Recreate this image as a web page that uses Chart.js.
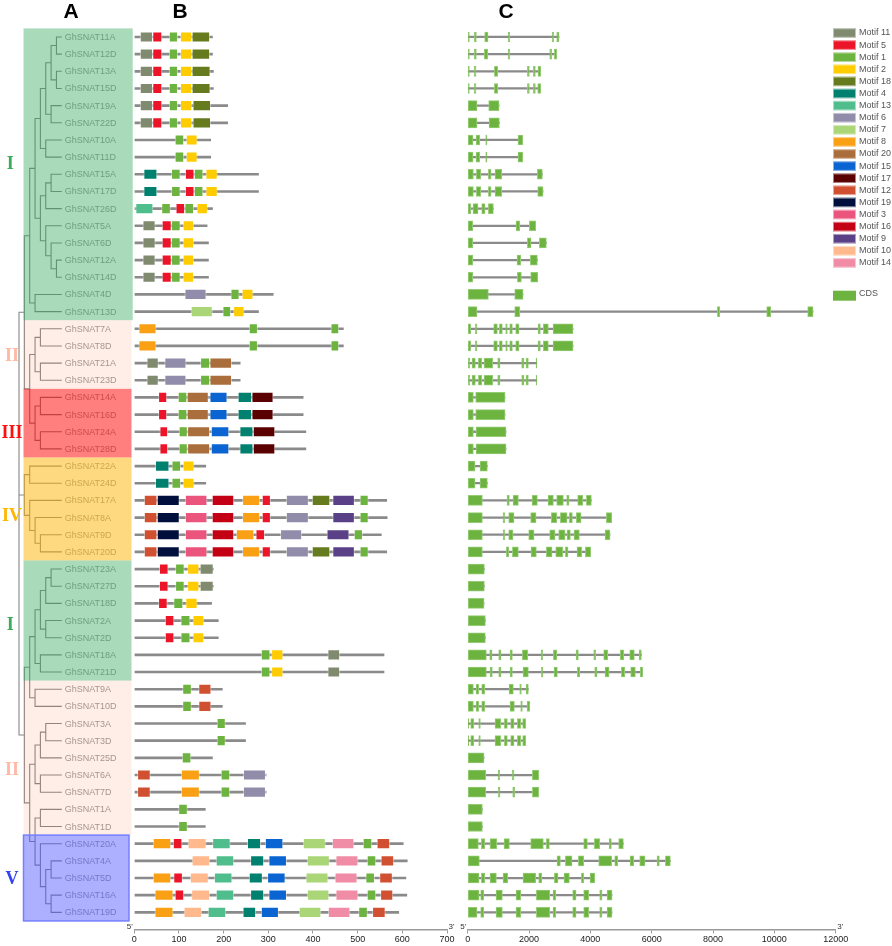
<!DOCTYPE html>
<html><head><meta charset="utf-8">
<script src="https://cdn.jsdelivr.net/npm/chart.js@4.4.1/dist/chart.umd.min.js"></script>
<style>
html,body{margin:0;padding:0;background:#fff;overflow:hidden;width:892px;height:946px;}
canvas{position:absolute;top:0;}
#cT{left:0;width:134px;height:946px}
#cB{left:100px;width:370px;height:946px}
#cC{left:440px;width:452px;height:946px}
</style></head><body>
<canvas id="cT" width="134" height="946"></canvas>
<canvas id="cB" width="370" height="946"></canvas>
<canvas id="cC" width="452" height="946"></canvas>
<script>
// ---------------- DATA ----------------
const genes = ['GhSNAT11A','GhSNAT12D','GhSNAT13A','GhSNAT15D','GhSNAT19A','GhSNAT22D','GhSNAT10A','GhSNAT11D',
 'GhSNAT15A','GhSNAT17D','GhSNAT26D','GhSNAT5A','GhSNAT6D','GhSNAT12A','GhSNAT14D','GhSNAT4D','GhSNAT13D',
 'GhSNAT7A','GhSNAT8D','GhSNAT21A','GhSNAT23D','GhSNAT14A','GhSNAT16D','GhSNAT24A','GhSNAT28D',
 'GhSNAT22A','GhSNAT24D','GhSNAT17A','GhSNAT8A','GhSNAT9D','GhSNAT20D',
 'GhSNAT23A','GhSNAT27D','GhSNAT18D','GhSNAT2A','GhSNAT2D','GhSNAT18A','GhSNAT21D',
 'GhSNAT9A','GhSNAT10D','GhSNAT3A','GhSNAT3D','GhSNAT25D','GhSNAT6A','GhSNAT7D','GhSNAT1A','GhSNAT1D',
 'GhSNAT20A','GhSNAT4A','GhSNAT5D','GhSNAT16A','GhSNAT19D'];

// protein lengths (aa), panel B
const proteinLen = [175,175,177,177,209,209,171,171,278,278,175,163,166,166,166,311,278,468,468,237,237,378,378,384,384,
 160,160,565,566,553,565,177,177,173,188,188,559,559,197,197,249,249,175,295,295,159,159,602,611,608,610,592];

// motif tracks per gene: [motif id, start, end]
const motifTracks = [
 [[11,13,41],[5,41,62],[1,78,97],[2,103,129],[18,129,169]],
 [[11,13,41],[5,41,62],[1,78,97],[2,103,129],[18,129,169]],
 [[11,13,41],[5,41,62],[1,78,97],[2,103,129],[18,129,170]],
 [[11,13,41],[5,41,62],[1,78,97],[2,103,129],[18,129,170]],
 [[11,13,41],[5,41,62],[1,78,97],[2,103,129],[18,131,171]],
 [[11,13,41],[5,41,62],[1,78,97],[2,103,129],[18,131,171]],
 [[1,91,111],[2,116,141]],
 [[1,91,111],[2,116,141]],
 [[4,21,51],[1,83,103],[5,114,134],[1,134,154],[2,160,186]],
 [[4,21,51],[1,83,103],[5,114,134],[1,134,154],[2,160,186]],
 [[13,3,42],[1,61,81],[5,93,113],[1,113,133],[2,140,164]],
 [[11,19,47],[5,62,83],[1,83,103],[2,109,133]],
 [[11,19,47],[5,62,83],[1,83,103],[2,109,133]],
 [[11,19,47],[5,62,83],[1,83,103],[2,109,133]],
 [[11,19,47],[5,62,83],[1,83,103],[2,109,133]],
 [[6,113,161],[1,216,235],[2,241,266]],
 [[7,127,175],[1,198,216],[2,222,246]],
 [[8,10,49],[1,257,276],[1,440,458]],
 [[8,10,49],[1,257,276],[1,440,458]],
 [[11,28,54],[6,68,116],[1,148,169],[20,169,218]],
 [[11,28,54],[6,68,116],[1,148,169],[20,169,218]],
 [[5,54,73],[1,98,118],[20,118,166],[15,169,208],[4,232,263],[17,263,311]],
 [[5,54,73],[1,98,118],[20,118,166],[15,169,208],[4,232,263],[17,263,311]],
 [[5,57,75],[1,100,119],[20,119,169],[15,172,212],[4,236,266],[17,266,315]],
 [[5,57,75],[1,100,119],[20,119,169],[15,172,212],[4,236,266],[17,266,315]],
 [[4,47,78],[1,84,104],[2,109,134]],
 [[4,47,78],[1,84,104],[2,109,134]],
 [[12,22,51],[19,51,101],[3,114,163],[16,174,223],[8,242,281],[5,286,305],[6,340,390],[18,398,438],[9,444,493],[1,505,524]],
 [[12,22,51],[19,51,101],[3,114,163],[16,174,223],[8,242,281],[5,286,305],[6,340,390],[9,444,493],[1,505,524]],
 [[12,22,51],[19,51,101],[3,114,163],[16,174,223],[8,228,268],[5,272,292],[6,327,375],[9,431,481],[1,492,511]],
 [[12,22,51],[19,51,101],[3,114,163],[16,174,223],[8,242,281],[5,286,305],[6,340,390],[18,398,438],[9,444,493],[1,505,524]],
 [[5,56,76],[1,92,112],[2,119,145],[11,147,177]],
 [[5,56,76],[1,92,112],[2,119,145],[11,147,177]],
 [[5,54,74],[1,88,109],[2,115,141]],
 [[5,69,89],[1,104,125],[2,131,156]],
 [[5,69,89],[1,104,125],[2,131,156]],
 [[1,284,304],[2,307,333],[11,433,460]],
 [[1,284,304],[2,307,333],[11,433,460]],
 [[1,108,128],[12,144,172]],
 [[1,108,128],[12,144,172]],
 [[1,185,204]],
 [[1,185,204]],
 [[1,107,127]],
 [[12,7,36],[8,105,146],[1,194,214],[6,244,294]],
 [[12,7,36],[8,105,146],[1,194,214],[6,244,294]],
 [[1,99,119]],
 [[1,99,119]],
 [[8,42,82],[5,87,107],[10,120,161],[13,175,215],[4,253,283],[15,293,333],[7,378,428],[14,443,492],[1,512,532],[12,543,572]],
 [[10,129,169],[13,183,223],[4,260,290],[15,301,341],[7,387,437],[14,451,501],[1,521,541],[12,552,581]],
 [[8,42,82],[5,88,108],[10,125,166],[13,179,219],[4,257,287],[15,298,338],[7,384,434],[14,449,499],[1,518,538],[12,549,578]],
 [[8,46,87],[5,91,111],[10,128,169],[13,183,223],[4,260,290],[15,301,341],[7,387,436],[14,451,501],[1,521,541],[12,551,579]],
 [[8,46,87],[10,111,151],[13,165,205],[4,243,272],[15,284,323],[7,369,418],[14,434,483],[1,502,522],[12,533,562]]
];

// exon (CDS) coordinates per gene (bp), panel C
const exons = [
 [[0,55],[217,283],[554,663],[1315,1370],[2750,2804],[2902,2978]],
 [[0,55],[217,283],[543,652],[1315,1370],[2674,2739],[2826,2902]],
 [[0,55],[207,272],[870,978],[1946,2011],[2141,2207],[2293,2380]],
 [[0,55],[207,272],[870,978],[1946,2011],[2141,2207],[2283,2380]],
 [[0,304],[685,1022]],
 [[0,304],[696,1033]],
 [[0,174],[272,391],[587,630],[1641,1793]],
 [[0,174],[272,391],[587,630],[1641,1793]],
 [[0,185],[283,424],[674,761],[891,1109],[2272,2435]],
 [[0,185],[283,424],[674,761],[891,1109],[2283,2457]],
 [[0,98],[174,337],[457,565],[674,837]],
 [[0,163],[1576,1696],[2011,2217]],
 [[0,163],[1946,2065],[2337,2565]],
 [[0,163],[1609,1728],[2043,2272]],
 [[0,163],[1620,1750],[2054,2283]],
 [[0,674],[1533,1804]],
 [[0,304],[1533,1696],[8142,8218],[9750,9881],[11087,11261]],
 [[0,98],[250,304],[848,967],[1033,1130],[1239,1293],[1370,1457],[1565,1674],[2293,2370],[2467,2630],[2783,3435]],
 [[0,98],[250,304],[848,967],[1033,1130],[1239,1293],[1370,1457],[1565,1674],[2293,2370],[2467,2630],[2783,3435]],
 [[0,65],[141,250],[348,457],[533,815],[978,1054],[1761,1837],[1902,1978],[2228,2250]],
 [[0,65],[141,250],[348,457],[533,815],[978,1054],[1761,1837],[1902,1978],[2228,2250]],
 [[0,185],[261,1217]],
 [[0,185],[261,1217]],
 [[0,185],[272,1250]],
 [[0,185],[272,1250]],
 [[0,239],[402,641]],
 [[0,239],[402,641]],
 [[0,478],[1283,1359],[1478,1652],[2098,2272],[2620,2794],[2902,3120],[3228,3304],[3587,3750],[3870,4033]],
 [[0,478],[1152,1207],[1337,1511],[2054,2228],[2728,2902],[3022,3239],[3315,3413],[3543,3696],[4522,4696]],
 [[0,478],[1152,1207],[1337,1478],[1989,2163],[2674,2848],[2967,3174],[3239,3348],[3467,3641],[4478,4641]],
 [[0,478],[1261,1337],[1457,1652],[2065,2239],[2565,2750],[2870,3098],[3185,3272],[3565,3717],[3837,4011]],
 [[0,544]],
 [[0,544]],
 [[0,533]],
 [[0,576]],
 [[0,576]],
 [[0,609],[717,794],[1011,1087],[1380,1457],[1783,1957],[2391,2446],[2794,2902],[3533,3609],[4109,4174],[4435,4565],[4978,5087],[5283,5435],[5587,5663]],
 [[0,609],[728,804],[1011,1087],[1380,1457],[1804,1978],[2402,2457],[2815,2924],[3576,3652],[4141,4217],[4478,4609],[5011,5120],[5315,5467],[5630,5707]],
 [[0,185],[272,359],[457,554],[1348,1489],[1696,1750],[1902,1978]],
 [[0,185],[272,359],[457,554],[1380,1522],[1728,1783],[1935,2022]],
 [[0,33],[98,196],[359,413],[891,1076],[1196,1293],[1402,1511],[1620,1728],[1793,1891]],
 [[0,33],[98,196],[359,413],[891,1076],[1196,1293],[1402,1511],[1620,1728],[1793,1891]],
 [[0,533]],
 [[0,587],[989,1043],[1446,1511],[2109,2315]],
 [[0,587],[1000,1054],[1467,1533],[2109,2315]],
 [[0,478]],
 [[0,478]],
 [[0,348],[446,554],[728,946],[1185,1359],[2054,2467],[2565,2663],[3783,3902],[4130,4304],[4609,4685],[4924,5076]],
 [[0,380],[2913,3022],[3185,3402],[3609,3783],[4272,4696],[4794,4891],[5294,5413],[5609,5783],[6174,6250],[6446,6609]],
 [[0,370],[446,554],[728,935],[1152,1304],[1804,2217],[2315,2413],[2826,2946],[3141,3315],[3707,3783],[3989,4141]],
 [[0,370],[424,522],[924,1130],[1576,1728],[2239,2674],[2783,2870],[3424,3533],[3783,3946],[4304,4380],[4543,4707]],
 [[0,304],[424,522],[924,1130],[1576,1728],[2239,2674],[2783,2870],[3424,3533],[3783,3946],[4304,4380],[4543,4707]]
];

// phylogenetic tree: [node level, children...]; leaves are gene suffixes
const tree = [0,
 [1,
  [2,[3,[4,[5,[6,[7,'11A','12D'],[7,'13A','15D']],[6,'19A','22D']],[5,'10A','11D']],
        [4,[5,[6,'15A','17D'],'26D'],[5,'5A',[6,'6D',[7,'12A','14D']]]]],
     [3,'4D','13D']],
  [2,[3,[4,'7A','8D'],[4,'21A','23D']],[3,[4,'14A','16D'],[4,'24A','28D']]]],
 [1,[2,'22A','24D'],[2,'17A',[3,'8A',[4,'9D','20D']]]],
 [1,
  [2,[3,[4,[5,[6,'23A','27D'],'18D'],[5,'2A','2D']],[4,'18A','21D']],[3,'9A','10D']],
  [2,[3,[4,[5,'3A','3D'],'25D'],[4,'6A','7D']],[3,[4,'1A','1D'],[4,'20A',[5,[6,'4A','5D'],[6,'16A','19D']]]]]]
];
const leafLevel = 8;

// clades
const cladeNames = ['I','II','III','IV','I','II','V'];
const cladeRows = [[0,16],[17,20],[21,24],[25,30],[31,37],[38,46],[47,51]];
const cladeLabelRow = [7.4,18.6,23.1,27.9,34.3,42.7,49.1];
const cladeLabelColor = ['#3caa5c','#ffb8a4','#ff1010','#ffb600','#3caa5c','#ffb8a4','#3344ee'];
const cladeFill = ['rgba(50,170,90,0.42)','rgba(255,120,80,0.13)','rgba(255,0,0,0.5)','rgba(255,180,0,0.5)',
                   'rgba(50,170,90,0.42)','rgba(255,120,80,0.13)','rgba(70,80,255,0.45)'];

// motifs legend
const motifIds = [11,5,1,2,18,4,13,6,7,8,20,15,17,12,19,3,16,9,10,14];
const motifColors = ['#7f8a6e','#eb1428','#6db33f','#ffcc00','#667a1e','#00806e','#50be8c','#918caa','#abd678','#faa014',
                     '#aa6e3c','#0a64d2','#5a0000','#d25032','#000f3c','#eb557d','#c30014','#5a4187','#ffb98c','#f08ca5'];
const cdsColor = '#6db33f';
const ticksB = [0,100,200,300,400,500,600,700];
const ticksC = [0,2000,4000,6000,8000,10000,12000];

// ---------------- BUILD ----------------
const FONT = '"Liberation Sans", Arial, Helvetica, sans-serif';
const ROWS = {min:-0.5, max:52};
const common = {
  animation:false, responsive:false, maintainAspectRatio:false,
  plugins:{legend:{display:false}, tooltip:{enabled:false}}
};
const yScale = {type:'linear', min:ROWS.min, max:ROWS.max, reverse:true, display:false, offset:false};

// --- tree (panel A)
const treePts = [];
const SEP = {x:NaN, y:NaN};
function layout(node){
  if (typeof node === 'string') return {lv:leafLevel, y:genes.indexOf('GhSNAT'+node)};
  const lv = node[0];
  const ch = node.slice(1).map(layout);
  const first = ch[0], last = ch[ch.length-1];
  treePts.push({x:first.lv,y:first.y},{x:lv,y:first.y},{x:lv,y:last.y},{x:last.lv,y:last.y},SEP);
  for (let i=1;i<ch.length-1;i++) treePts.push({x:lv,y:ch[i].y},{x:ch[i].lv,y:ch[i].y},SEP);
  return {lv, y:(first.y+last.y)/2};
}
layout(tree);

const treePlugin = {
  id:'treeDecor',
  afterDraw(chart){
    const ctx = chart.ctx, xs = chart.scales.x, ys = chart.scales.y;
    ctx.save();
    ctx.font = '9px '+FONT; ctx.fillStyle = '#999'; ctx.textBaseline = 'middle'; ctx.textAlign='left';
    genes.forEach((g,i)=>ctx.fillText(g, xs.getPixelForValue(leafLevel+0.55), ys.getPixelForValue(i)+0.5));
    cladeRows.forEach((r,k)=>{
      const top = ys.getPixelForValue(r[0]-0.5), bot = ys.getPixelForValue(r[1]+0.5);
      const x0 = 23.5, x1 = k===0 ? 132.7 : (k===6 ? 129 : 131.5);
      ctx.fillStyle = cladeFill[k];
      ctx.fillRect(x0, top, x1-x0, bot-top);
      if (k===6){ ctx.strokeStyle='#7480ff'; ctx.lineWidth=1.5; ctx.strokeRect(x0, top, x1-x0, bot-top); }
    });
    ctx.font = 'bold 18px "Liberation Serif", "Times New Roman", serif';
    ctx.textAlign = 'center';
    cladeNames.forEach((n,k)=>{
      ctx.fillStyle = cladeLabelColor[k];
      ctx.fillText(n, n==='I'?10.3:12, ys.getPixelForValue(cladeLabelRow[k]));
    });
    ctx.font = 'bold 21px '+FONT; ctx.fillStyle='#000';
    ctx.fillText('A', 71, 12);
    ctx.restore();
  }
};

new Chart(document.getElementById('cT'), {
  type:'scatter',
  data:{datasets:[{data:treePts, showLine:true, spanGaps:false, borderColor:'#858585', borderWidth:1.1, pointRadius:0, fill:false}]},
  options:Object.assign({}, common, {
    layout:{padding:{top:28.4, bottom:16.5, left:0, right:0}},
    scales:{x:{type:'linear', min:-19/5.35, max:(134-19)/5.35, display:false}, y:yScale}
  }),
  plugins:[treePlugin]
});

// --- axis helper
function xAxis(min,max,ticks){
  return {type:'linear', min, max, position:'bottom',
    afterBuildTicks(s){ s.ticks = ticks.map(v=>({value:v})); },
    afterFit(s){ s.height = 16.5; },
    ticks:{font:{size:9, family:FONT}, color:'#222', padding:1, maxRotation:0, autoSkip:false,
           callback:(v)=>String(v)},
    grid:{display:true, drawOnChartArea:false, drawTicks:true, tickLength:4, color:'#9a9a9a', lineWidth:1},
    border:{display:true, color:'#9a9a9a', width:1.5}};
}
function endLabels(chart, ctx){
  const a = chart.chartArea;
  ctx.font = '8px '+FONT; ctx.fillStyle='#333'; ctx.textBaseline='alphabetic';
  ctx.textAlign='right'; ctx.fillText("5'", a.left-1.5, a.bottom-0.5);
  ctx.textAlign='left'; ctx.fillText("3'", a.right+1.5, a.bottom-0.5);
}

// --- motifs (panel B)
const dsB = [{
  data: genes.map((g,i)=>({y:i, x:[0, proteinLen[i]]})),
  backgroundColor:'#8a8a8a', barThickness:2, borderWidth:0, order:2, grouped:false
}];
motifIds.forEach((m,k)=>{
  const pts = [];
  motifTracks.forEach((tr,i)=>tr.forEach(t=>{ if (t[0]===m) pts.push({y:i, x:[t[1],t[2]]}); }));
  dsB.push({label:'Motif '+m, data:pts, backgroundColor:motifColors[k], borderColor:'rgba(255,255,255,0.45)',
    borderWidth:1, borderSkipped:false, barThickness:10.5, order:1, grouped:false});
});
new Chart(document.getElementById('cB'), {
  type:'bar',
  data:{datasets:dsB},
  options:Object.assign({}, common, {
    indexAxis:'y',
    layout:{padding:{top:28.4, bottom:0, left:34.3, right:23}},
    scales:{x:xAxis(0,700,ticksB), y:yScale}
  }),
  plugins:[{id:'bDecor', afterDraw(chart){
    const ctx=chart.ctx; ctx.save(); endLabels(chart, ctx);
    ctx.font='bold 21px '+FONT; ctx.fillStyle='#000'; ctx.textAlign='center'; ctx.textBaseline='middle';
    ctx.fillText('B', 80, 12); ctx.restore();
  }}]
});

// --- gene structure (panel C)
const dsC = [{
  data: exons.map((ex,i)=>({y:i, x:[ex[0][0], ex[ex.length-1][1]]})),
  backgroundColor:'#8a8a8a', barThickness:1.6, borderWidth:0, order:2, grouped:false
},{
  label:'CDS',
  data: exons.flatMap((ex,i)=>ex.map(e=>({y:i, x:[e[0],e[1]]}))),
  backgroundColor:cdsColor, borderColor:'#94cc74', borderWidth:1, borderSkipped:false,
  barThickness:10, order:1, grouped:false
}];
new Chart(document.getElementById('cC'), {
  type:'bar',
  data:{datasets:dsC},
  options:Object.assign({}, common, {
    indexAxis:'y',
    layout:{padding:{top:28.4, bottom:0, left:27.7, right:56.3}},
    scales:{x:xAxis(0,12000,ticksC), y:yScale}
  }),
  plugins:[{id:'cDecor', afterDraw(chart){
    const ctx=chart.ctx; ctx.save(); endLabels(chart, ctx);
    ctx.font='bold 21px '+FONT; ctx.fillStyle='#000'; ctx.textAlign='center'; ctx.textBaseline='middle';
    ctx.fillText('C', 66, 12);
    // legend
    ctx.font='9px '+FONT; ctx.textAlign='left'; ctx.textBaseline='middle';
    const bx = 393, bw = 23, bh = 9.5;
    motifIds.forEach((m,k)=>{
      const yc = 33 + 12.1*k;
      ctx.fillStyle = motifColors[k]; ctx.fillRect(bx, yc-bh/2, bw, bh);
      ctx.strokeStyle='rgba(255,255,255,0.5)'; ctx.lineWidth=1; ctx.strokeRect(bx+0.5, yc-bh/2+0.5, bw-1, bh-1);
      ctx.fillStyle='#555'; ctx.fillText('Motif '+m, 419, yc);
    });
    ctx.fillStyle = cdsColor; ctx.fillRect(bx, 290.7, bw, 10);
    ctx.fillStyle='#555'; ctx.fillText('CDS', 419, 294);
    ctx.restore();
  }}]
});
</script>
</body></html>
